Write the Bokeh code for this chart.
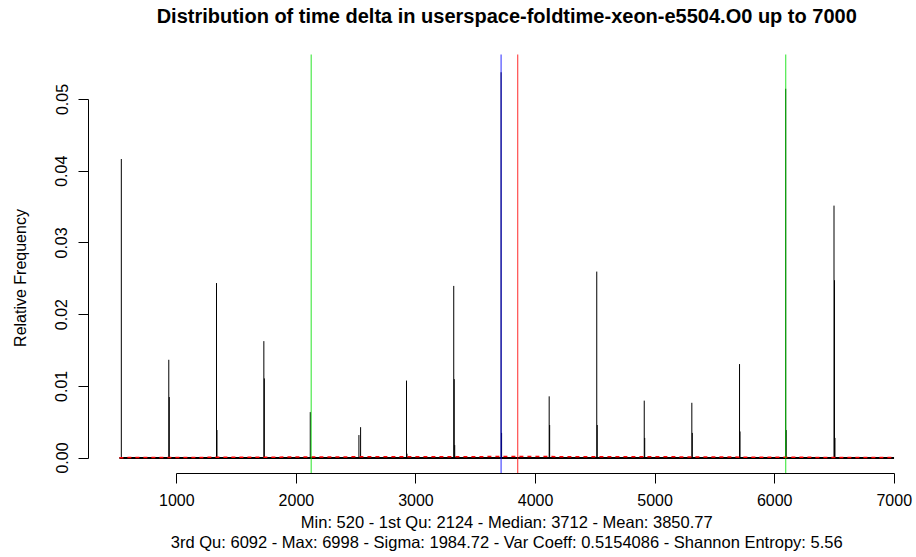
from bokeh.plotting import figure
from bokeh.models import Label, FixedTicker
from bokeh.embed import file_html
from bokeh.resources import INLINE

# ---- data ----
delta_values = [536, 933, 937, 1332, 1336, 1728, 1732, 2116, 2523, 2537,
                2921, 2925, 3316, 3320, 3324, 3712, 3716, 4114, 4118,
                4512, 4516, 4909, 4913, 5307, 5311, 5706, 5710,
                6092, 6096, 6496, 6500, 6504]
rel_freq = [0.0417, 0.0137, 0.0085, 0.0244, 0.0039, 0.0163, 0.0111, 0.0064, 0.0032, 0.0043,
            0.0108, 0.0006, 0.0240, 0.0110, 0.0018, 0.0538, 0.0035, 0.0086, 0.0046,
            0.0260, 0.0046, 0.0080, 0.0028, 0.0077, 0.0035, 0.0131, 0.0037,
            0.0515, 0.0039, 0.0352, 0.0248, 0.0028]

dens_x = [520, 1500, 2500, 3850, 5000, 6000, 6998]
dens_y = [0.00005, 0.00010, 0.00016, 0.00020, 0.00017, 0.00010, 0.00006]

stat_min = 520
stat_q1 = 2124
stat_median = 3712
stat_mean = 3850.77
stat_q3 = 6092
stat_max = 6998
stat_sigma = 1984.72
stat_varcoeff = 0.5154086
stat_entropy = 5.56

x_ticks = [1000, 2000, 3000, 4000, 5000, 6000, 7000]
y_ticks = [0.00, 0.01, 0.02, 0.03, 0.04, 0.05]
y_tick_labels = {0.0: "0.00", 0.01: "0.01", 0.02: "0.02", 0.03: "0.03", 0.04: "0.04", 0.05: "0.05"}

title_text = "Distribution of time delta in userspace-foldtime-xeon-e5504.O0 up to 7000"
line1 = f"Min: {stat_min} - 1st Qu: {stat_q1} - Median: {stat_median} - Mean: {stat_mean}"
line2 = (f"3rd Qu: {stat_q3} - Max: {stat_max} - Sigma: {stat_sigma} - "
         f"Var Coeff: {stat_varcoeff} - Shannon Entropy: {stat_entropy}")

FONT = "Liberation Sans"

# R plot region: x 261..7257, y -0.00216..0.05616 ; the frame here spans the full figure height
W, H = 914, 555
LEFT = 88
px_per_x = 0.11958      # pixels per data unit (x)
px_per_y = 7170.0       # pixels per data unit (y)
y0_px = 457.5           # pixel row of y = 0
x1000_px = 176.3        # pixel column of x = 1000
x_lo = 1000 - (x1000_px - LEFT) / px_per_x
x_hi = 1000 + (W - x1000_px) / px_per_x
y_hi = y0_px / px_per_y
y_lo = -(H - y0_px) / px_per_y
region_bottom = -0.00216
region_top = 0.05628

p = figure(width=W, height=H, output_backend="svg", toolbar_location=None,
           x_range=(x_lo, x_hi), y_range=(y_lo, y_hi),
           min_border_left=LEFT, min_border_right=0, min_border_top=0, min_border_bottom=0)
p.outline_line_color = None
p.xgrid.visible = False
p.ygrid.visible = False
p.background_fill_color = "white"
p.border_fill_color = "white"

# axes
for ax in (p.xaxis[0], p.yaxis[0]):
    ax.axis_line_color = "black"
    ax.major_tick_line_color = "black"
    ax.minor_tick_line_color = None
    ax.major_tick_out = 10
    ax.major_tick_in = 0
    ax.major_label_text_font = FONT
    ax.major_label_text_font_size = "16px"
    ax.major_label_text_color = "black"
    ax.axis_label_text_font = FONT
    ax.axis_label_text_font_size = "16px"
    ax.axis_label_text_font_style = "normal"
    ax.axis_label_text_color = "black"

p.xaxis[0].ticker = FixedTicker(ticks=x_ticks)
p.xaxis[0].bounds = (x_ticks[0], x_ticks[-1])
p.xaxis[0].fixed_location = region_bottom
p.xaxis[0].major_label_standoff = 11

p.yaxis[0].ticker = FixedTicker(ticks=y_ticks)
p.yaxis[0].bounds = (y_ticks[0], y_ticks[-1])
p.yaxis[0].major_label_overrides = y_tick_labels
p.yaxis[0].major_label_orientation = "vertical"
p.yaxis[0].major_label_standoff = 11
p.yaxis[0].axis_label = "Relative Frequency"
p.yaxis[0].axis_label_standoff = 24

# baseline of tiny frequencies
p.line(x=[stat_min, stat_max], y=[0, 0], line_color="black", line_width=2)
# spikes
p.segment(x0=delta_values, y0=[0] * len(delta_values), x1=delta_values, y1=rel_freq,
          line_color="black", line_width=1)
# density
p.line(x=dens_x, y=dens_y, line_color="red", line_width=1.5, line_dash="4 4")

# statistic lines (span the R plot region)
stat_locs = [stat_q1, stat_q3, stat_median, stat_mean]
stat_cols = ["#00e000", "#00e000", "#0000ff", "#ff0000"]
p.segment(x0=stat_locs, y0=[region_bottom] * 4, x1=stat_locs, y1=[region_top] * 4,
          line_color=stat_cols, line_width=1.2, line_alpha=0.7)

mid_x = (261.0 + 7257.0) / 2
p.add_layout(Label(x=mid_x, y=H - 15.5, x_units="data", y_units="screen", text=title_text,
                   text_font=FONT, text_font_size="20px", text_font_style="bold",
                   text_align="center", text_baseline="middle", text_color="black"))
p.add_layout(Label(x=mid_x, y=H - 521, x_units="data", y_units="screen", text=line1,
                   text_font=FONT, text_font_size="16.5px",
                   text_align="center", text_baseline="middle", text_color="black"))
p.add_layout(Label(x=mid_x, y=H - 541, x_units="data", y_units="screen", text=line2,
                   text_font=FONT, text_font_size="16.5px",
                   text_align="center", text_baseline="middle", text_color="black"))

open("out.html", "w").write(file_html(p, INLINE))
